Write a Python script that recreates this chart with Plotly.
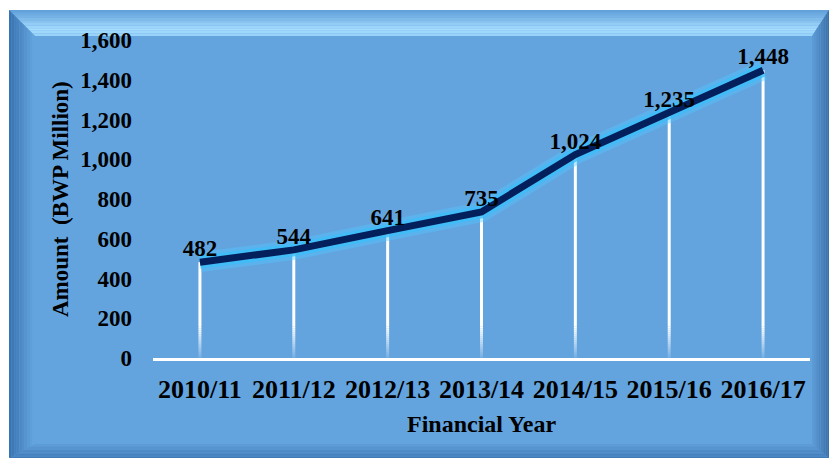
import plotly.graph_objects as go

# ---- data ----
years = ["2010/11", "2011/12", "2012/13", "2013/14", "2014/15", "2015/16", "2016/17"]
amounts = [482, 544, 641, 735, 1024, 1235, 1448]
value_labels = ["482", "544", "641", "735", "1,024", "1,235", "1,448"]
y_ticks = [0, 200, 400, 600, 800, 1000, 1200, 1400, 1600]
y_tick_labels = ["0", "200", "400", "600", "800", "1,000", "1,200", "1,400", "1,600"]
x_title = "Financial Year"
y_title = "Amount  (BWP Million)"

# ---- layout geometry (pixels) ----
W_FIG, H_FIG = 829, 461
L, R, T, B = 153, 810, 40, 358
PW, PH = R - L, B - T

def px(x):
    return (x - L) / PW

def py(y):
    return (B - y) / PH

FONT = "Liberation Serif"

fig = go.Figure()

# drop lines (white, fading toward the baseline)
FADE_TOP = 160
NSTEP = 16
for xc, v in zip(years, amounts):
    for k in range(NSTEP):
        lo = FADE_TOP * k / NSTEP
        hi = FADE_TOP * (k + 1) / NSTEP
        op = 0.08 + 0.92 * (k + 1) / NSTEP
        fig.add_trace(go.Scatter(x=[xc, xc], y=[lo, min(hi, v)], mode="lines",
                                 line=dict(color="rgba(255,255,255,%.3f)" % op, width=3),
                                 hoverinfo="skip", showlegend=False))
    fig.add_trace(go.Scatter(x=[xc, xc], y=[FADE_TOP, v], mode="lines",
                             line=dict(color="white", width=3),
                             hoverinfo="skip", showlegend=False))

# glow
fig.add_trace(go.Scatter(x=years, y=amounts, mode="lines",
                         line=dict(color="rgba(80,200,255,0.4)", width=20),
                         hoverinfo="skip", showlegend=False))
fig.add_trace(go.Scatter(x=years, y=amounts, mode="lines",
                         line=dict(color="rgba(60,190,250,0.8)", width=13),
                         hoverinfo="skip", showlegend=False))
# main line
fig.add_trace(go.Scatter(x=years, y=amounts, mode="lines",
                         line=dict(color="#03205C", width=7),
                         showlegend=False))
# value labels
fig.add_trace(go.Scatter(x=years, y=amounts, mode="text", text=value_labels,
                         textposition="top center",
                         textfont=dict(family=FONT, size=23, color="black", weight="bold"),
                         hoverinfo="skip", showlegend=False))

# ---- bevelled panel background ----
shapes = []
ox0, oy0, ox1, oy1 = 9, 10, 829, 458
bw = dict(top=26, left=26, right=17, bottom=14)
panel = "#63A4DF"

def hex2rgb(h):
    h = h.lstrip("#")
    return tuple(int(h[i:i + 2], 16) for i in (0, 2, 4))

def lerp(c1, c2, t):
    a, b = hex2rgb(c1), hex2rgb(c2)
    return "rgb(%d,%d,%d)" % tuple(round(a[i] + (b[i] - a[i]) * t) for i in range(3))

def path(pts):
    return "M " + " L ".join("%.5f,%.5f" % (px(x), py(y)) for x, y in pts) + " Z"

shapes.append(dict(type="rect", xref="paper", yref="paper", layer="below",
                   x0=px(ox0), x1=px(ox1), y0=py(oy1), y1=py(oy0),
                   fillcolor=panel, line=dict(width=0)))

grads = dict(top=("#5E9DD8", "#A6DDFF"), left=("#3870AE", "#66A7E1"),
             right=("#3B6FA5", "#5E9CD7"), bottom=("#3E78B5", "#5F9DD8"))
N = 10
for i in range(N):
    f0, f1 = i / N, (i + 1) / N
    def rect(f):
        return (ox0 + bw["left"] * f, oy0 + bw["top"] * f,
                ox1 - bw["right"] * f, oy1 - bw["bottom"] * f)
    a0, b0, c0, d0 = rect(f0)
    a1, b1, c1, d1 = rect(f1)
    t = (i + 0.5) / N
    top_t = min(1.0, t / 0.75) if t < 0.75 else 1.0 - (t - 0.75) * 0.8
    polys = {
        "top": ([(a0, b0), (c0, b0), (c1, b1), (a1, b1)], top_t),
        "left": ([(a0, b0), (a1, b1), (a1, d1), (a0, d0)], t),
        "right": ([(c0, b0), (c0, d0), (c1, d1), (c1, b1)], t),
        "bottom": ([(a0, d0), (c0, d0), (c1, d1), (a1, d1)], t),
    }
    for side, (pts, tt) in polys.items():
        col = lerp(grads[side][0], grads[side][1], tt)
        shapes.append(dict(type="path", xref="paper", yref="paper", layer="below",
                           path=path(pts), fillcolor=col, line=dict(width=0)))

fig.update_layout(
    width=W_FIG, height=H_FIG,
    margin=dict(l=L, r=W_FIG - R, t=T, b=H_FIG - B, pad=0),
    paper_bgcolor="white", plot_bgcolor="rgba(0,0,0,0)",
    shapes=shapes,
    showlegend=False,
    font=dict(family=FONT, color="black"),
    xaxis=dict(type="category", categoryorder="array", categoryarray=years,
               range=[-0.5, len(years) - 0.5],
               showgrid=False, zeroline=False,
               showline=True, linecolor="white", linewidth=2.5,
               ticks="", ticklabelstandoff=6,
               tickfont=dict(family=FONT, size=26, color="black", weight="bold")),
    yaxis=dict(range=[0, 1600], tickvals=y_ticks, ticktext=y_tick_labels,
               showgrid=False, zeroline=False, showline=False,
               ticks="", ticklabelstandoff=20,
               tickfont=dict(family=FONT, size=23, color="black", weight="bold")),
    annotations=[
        dict(text=x_title, xref="paper", yref="paper", x=px(481), y=py(424),
             xanchor="center", yanchor="middle", showarrow=False,
             font=dict(family=FONT, size=24, color="black", weight="bold")),
        dict(text=y_title, xref="paper", yref="paper", x=px(60), y=py(199),
             xanchor="center", yanchor="middle", showarrow=False, textangle=-90,
             font=dict(family=FONT, size=23, color="black", weight="bold")),
    ],
)

fig.write_html("out.html", config={"displayModeBar": False},
               post_script="document.body.style.margin='0';")
